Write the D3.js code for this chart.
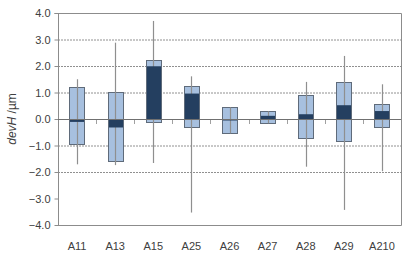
<!DOCTYPE html>
<html><head><meta charset="utf-8">
<script src="https://cdn.jsdelivr.net/npm/d3@7"></script>
<style>body{margin:0;background:#fff}</style>
</head><body>
<svg id="c" width="409" height="257"></svg>
<script>
const categories = ["A11","A13","A15","A25","A26","A27","A28","A29","A210"];
const boxLow  = [-0.96,-1.58,-0.12,-0.30,-0.54,-0.16,-0.72,-0.84,-0.30];
const boxHigh = [ 1.19, 1.01, 2.21, 1.23, 0.44, 0.29, 0.89, 1.38, 0.58];
const meanVal = [-0.11,-0.32, 1.99, 0.96,-0.04, 0.12, 0.18, 0.52, 0.30];
const whiskMin= [-1.71,-1.74,-1.66,-3.53,-0.54,-0.16,-1.80,-3.43,-1.97];
const whiskMax= [ 1.50, 2.88, 3.70, 1.61, 0.44, 0.29, 1.40, 2.38, 1.31];
const yTicks = [4,3,2,1,0,-1,-2,-3,-4];
const gridVals = [3,2,1,-1,-2];

const svg = d3.select("#c");
const L=58, R=401, T=13, B=225;
const x = d3.scaleBand().domain(categories).range([L,R]).paddingInner(0.6).paddingOuter(0.3);
const xb = d3.scaleBand().domain(categories).range([L,R]);
const y = d3.scaleLinear().domain([-4,4]).range([B,T]);

// gridlines
svg.append("g").selectAll("line").data(gridVals).join("line")
  .attr("x1",L).attr("x2",R).attr("y1",d=>y(d)+0.5).attr("y2",d=>y(d)+0.5)
  .attr("stroke","#909090").attr("stroke-width",1).attr("stroke-dasharray","2,1");

// frame top & right
svg.append("path").attr("d",`M${L},${T+0.5}H${R+0.5}V${B}`)
  .attr("fill","none").attr("stroke","#8c8c8c");

// y axis
const ya = svg.append("g").attr("transform",`translate(${L+0.5},0)`)
  .call(d3.axisLeft(y).tickValues(yTicks).tickFormat(d3.format(".1f")).tickSize(4).tickPadding(4));
ya.selectAll("path,line").attr("stroke","#8c8c8c");
ya.selectAll("text").attr("font-family","Liberation Sans, Arial, sans-serif").attr("font-size","11px").attr("fill","#404040");
ya.select(".domain").attr("d",`M-4,${T+0.5}H0V${B+0.5}H${R-L}`);

// bottom line
svg.append("line").attr("x1",L).attr("x2",R+0.5).attr("y1",B+0.5).attr("y2",B+0.5).attr("stroke","#8c8c8c");

const data = categories.map((c,i)=>({c,lo:boxLow[i],hi:boxHigh[i],m:meanVal[i],wmin:whiskMin[i],wmax:whiskMax[i]}));

// zero axis with ticks between categories
const bounds = categories.slice(1);
svg.append("g").selectAll("line").data(bounds).join("line")
  .attr("x1",d=>Math.round(xb(d))+0.5).attr("x2",d=>Math.round(xb(d))+0.5)
  .attr("y1",y(0)).attr("y2",y(0)+5).attr("stroke","#a0a0a0");

// light boxes
svg.append("g").selectAll("rect").data(data).join("rect")
  .attr("x",d=>Math.round(x(d.c))+0.5).attr("width",Math.round(x.bandwidth()))
  .attr("y",d=>Math.round(y(d.hi))+0.5).attr("height",d=>Math.round(y(d.lo))-Math.round(y(d.hi)))
  .attr("fill","#a7c0df").attr("stroke","#5f6b7a").attr("stroke-width",1);

// whiskers
svg.append("g").selectAll("line").data(data).join("line")
  .attr("x1",d=>Math.round(x(d.c)+x.bandwidth()/2)+0.5).attr("x2",d=>Math.round(x(d.c)+x.bandwidth()/2)+0.5)
  .attr("y1",d=>y(d.wmax)).attr("y2",d=>y(d.wmin))
  .attr("stroke","#8f8f8f").attr("stroke-width",1.2);

// dark mean bars
svg.append("g").selectAll("rect").data(data).join("rect")
  .attr("x",d=>Math.round(x(d.c))+1).attr("width",Math.round(x.bandwidth())-1)
  .attr("y",d=>y(Math.max(0,d.m))).attr("height",d=>Math.max(1.5,Math.abs(y(d.m)-y(0))))
  .attr("fill","#243f60");

// zero line
svg.append("line").attr("x1",L).attr("x2",R).attr("y1",y(0)+0.5).attr("y2",y(0)+0.5)
  .attr("stroke","#707070").attr("stroke-width",1);

// x labels
svg.append("g").selectAll("text").data(categories).join("text")
  .attr("x",d=>xb(d)+xb.bandwidth()/2).attr("y",250)
  .attr("text-anchor","middle").attr("font-family","Liberation Sans, Arial, sans-serif")
  .attr("font-size","11px").attr("fill","#404040").text(d=>d);

// y title
const t = svg.append("text").attr("transform",`translate(16,${y(0)}) rotate(-90)`)
  .attr("text-anchor","middle").attr("font-family","Liberation Sans, Arial, sans-serif")
  .attr("font-size","12px").attr("fill","#404040");
t.append("tspan").attr("font-style","italic").text("devH");
t.append("tspan").text(" /µm");
</script>
</body></html>
